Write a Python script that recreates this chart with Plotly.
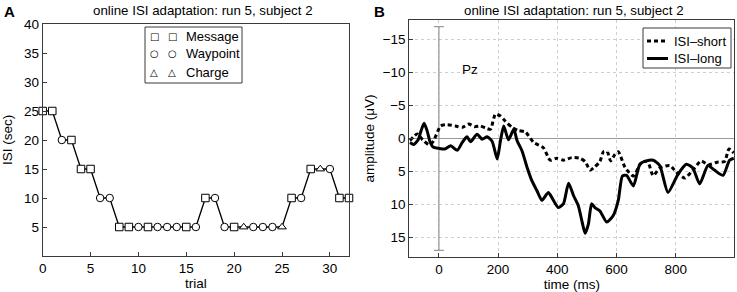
import plotly.graph_objects as go

W, H = 737, 292

# ---------------- data: panel A ----------------
trials = list(range(33))
isi_sec = [25, 25, 20, 20, 15, 15, 10, 10, 5, 5, 5, 5, 5, 5, 5, 5, 5, 10, 10, 5,
           5, 5, 5, 5, 5, 5, 10, 10, 15, 15, 15, 10, 10]
task = ["Message", "Message", "Waypoint", "Message", "Message", "Message", "Waypoint",
        "Waypoint", "Message", "Message", "Waypoint", "Message", "Waypoint", "Waypoint",
        "Waypoint", "Message", "Waypoint", "Message", "Waypoint", "Waypoint", "Message",
        "Charge", "Waypoint", "Waypoint", "Waypoint", "Charge", "Message", "Waypoint",
        "Message", "Charge", "Waypoint", "Message", "Message"]
task_names = ["Message", "Waypoint", "Charge"]
symbol_of = {"Message": "square", "Waypoint": "circle", "Charge": "triangle-up"}
glyph_of = {"Message": "\u25a1", "Waypoint": "\u25cb", "Charge": "\u25b3"}
a_xticks = [0, 5, 10, 15, 20, 25, 30]
a_yticks = [5, 10, 15, 20, 25, 30, 35, 40]

# ---------------- data: panel B ----------------
t_long = [-98, -85, -70, -60, -50, -40, -30, -20, 0, 20, 40, 62, 79, 95, 107, 129, 146,
          163, 180, 197, 208, 219, 235, 253, 264, 281, 298, 314, 331, 348, 370, 387, 404,
          421, 438, 455, 471, 483, 494, 505, 516, 527, 544, 567, 589, 606, 620, 634, 657,
          679, 701, 724, 746, 774, 808, 836, 858, 881, 909, 931, 960, 982, 996]
v_long = [0.6, 0.9, 0.2, -1.2, -2.3, -1.2, 0.5, 1.3, 1.5, 1.6, 1.1, 1.8, 0.6, -0.25, 0.5,
          -0.66, 0.1, -0.25, 0.45, 3.1, 0.35, -1.9, 0.2, -1.4, 0.3, 1.9, 4.4, 6.4, 7.9, 9.4,
          8.2, 9.4, 10.5, 9.9, 6.8, 8.7, 10.2, 12.5, 14.4, 13.0, 9.9, 10.5, 11.0, 12.7, 11.7,
          9.4, 5.7, 5.6, 7.2, 3.9, 3.4, 3.3, 4.1, 8.2, 5.4, 3.9, 4.5, 6.9, 4.1, 4.8, 5.6, 3.3,
          3.0]
t_short = [-98, -73, -55, -34, -20, 6, 28, 56, 80, 101, 120, 140, 157, 174, 191, 208, 225,
           247, 269, 292, 320, 353, 376, 398, 421, 449, 476, 494, 511, 527, 544, 556, 569,
           580, 595, 606, 629, 657, 685, 705, 724, 746, 780, 802, 831, 858, 886, 910, 940,
           965, 980, 996]
v_short = [0.3, -0.7, 0.2, 0.95, 0.5, -1.9, -2.1, -1.9, -1.7, -2.2, -1.8, -1.9, -1.6, -1.4,
           -3.7, -3.4, -2.6, -1.7, -1.2, -1.0, 0.6, 1.4, 3.3, 3.0, 3.3, 2.9, 3.0, 3.5, 4.8,
           4.3, 3.5, 2.0, 2.0, 3.4, 2.4, 2.0, 4.4, 5.7, 3.6, 3.5, 5.65, 4.5, 4.1, 5.1, 6.0,
           4.8, 3.4, 4.0, 3.6, 3.5, 1.6, 2.2]
series_names = ["ISI\u2013short", "ISI\u2013long"]
b_xticks = [0, 200, 400, 600, 800]
b_yticks = [-15, -10, -5, 0, 5, 10, 15]
scale_bar_uv = 17
title_text = "online ISI adaptation: run 5, subject 2"

# ---------------- helpers ----------------
def px(x):
    return x / W


def py(y):
    return 1 - y / H


FONT = "Liberation Sans, Arial, sans-serif"
AXC = "#3a3a3a"
DOTTED = "4px,3px"

fig = go.Figure()

# Panel A
fig.add_trace(go.Scatter(
    x=trials, y=isi_sec, mode="lines+markers", xaxis="x", yaxis="y",
    line=dict(color="black", width=1.3),
    marker=dict(symbol=[symbol_of[t] for t in task], size=7.5,
                color="white", line=dict(color="black", width=1)),
    showlegend=False, hoverinfo="skip", cliponaxis=False))

# Panel B
fig.add_trace(go.Scatter(
    x=[0], y=[0], mode="markers", xaxis="x2", yaxis="y2",
    marker=dict(size=0.1, color="rgba(0,0,0,0)"),
    error_y=dict(type="constant", value=scale_bar_uv, color="#9a9a9a", thickness=1.3, width=5),
    showlegend=False, hoverinfo="skip"))
fig.add_trace(go.Scatter(
    x=t_short, y=v_short, mode="lines", name=series_names[0], xaxis="x2", yaxis="y2",
    line=dict(color="black", width=3, dash=DOTTED, shape="spline", smoothing=0.6),
    showlegend=False))
fig.add_trace(go.Scatter(
    x=t_long, y=v_long, mode="lines", name=series_names[1], xaxis="x2", yaxis="y2",
    line=dict(color="black", width=3, shape="spline", smoothing=0.6),
    showlegend=False))

common_axis = dict(showline=True, linecolor=AXC, linewidth=1, mirror=True,
                   ticks="inside", ticklen=4, tickcolor=AXC, automargin=False,
                   tickfont=dict(size=13.5, color="black", family=FONT))

fig.update_layout(
    width=W, height=H, margin=dict(l=0, r=0, t=0, b=0),
    paper_bgcolor="white", plot_bgcolor="white",
    font=dict(family=FONT, size=13, color="black"),
    showlegend=False,
    xaxis=dict(domain=[px(42.7), px(349)], range=[0, 32], tickvals=a_xticks,
               showgrid=False, zeroline=False,
               title=dict(text="trial", font=dict(size=13.5), standoff=2),
               **common_axis),
    yaxis=dict(domain=[py(256), py(24)], range=[0, 40], tickvals=a_yticks,
               showgrid=False, zeroline=False,
               title=dict(text="ISI (sec)", font=dict(size=13.5), standoff=10),
               **common_axis),
    xaxis2=dict(domain=[px(409.3), px(734.3)], range=[-100, 998], tickvals=b_xticks,
                showgrid=True, gridcolor="#cfcfcf", griddash="dot", gridwidth=1,
                zeroline=False, anchor="y2",
                title=dict(text="time (ms)", font=dict(size=13.5), standoff=0),
                **common_axis),
    yaxis2=dict(domain=[py(257), py(20)], range=[18, -18], tickvals=b_yticks,
                showgrid=True, gridcolor="#cfcfcf", griddash="dot", gridwidth=1,
                zeroline=True, zerolinecolor="#9a9a9a", zerolinewidth=1, anchor="x2",
                title=dict(text="amplitude (\u03bcV)", font=dict(size=13.5), standoff=4),
                **common_axis),
)

# Titles and panel letters
fig.add_annotation(text=title_text, x=px(203), y=py(10), xref="paper", yref="paper",
                   showarrow=False, font=dict(size=13.3), xanchor="center", yanchor="middle")
fig.add_annotation(text=title_text, x=px(574), y=py(10), xref="paper", yref="paper",
                   showarrow=False, font=dict(size=13.3), xanchor="center", yanchor="middle")
fig.add_annotation(text="<b>A</b>", x=px(2), y=py(11), xref="paper", yref="paper",
                   showarrow=False, font=dict(size=15), xanchor="left", yanchor="middle")
fig.add_annotation(text="<b>B</b>", x=px(372), y=py(12), xref="paper", yref="paper",
                   showarrow=False, font=dict(size=15), xanchor="left", yanchor="middle")
fig.add_annotation(text="Pz", x=105, y=-10.5, xref="x2", yref="y2", showarrow=False,
                   font=dict(size=13.5), xanchor="center", yanchor="middle")

# Manual legend for panel A (two symbols per entry)
fig.add_shape(type="rect", xref="paper", yref="paper",
              x0=px(145), x1=px(242), y0=py(83), y1=py(27),
              line=dict(color=AXC, width=1), fillcolor="white", layer="above")
row_y = [36, 54, 72]
for name, ry in zip(task_names, row_y):
    for gx in (154, 172):
        fig.add_annotation(text=glyph_of[name], x=px(gx), y=py(ry), xref="paper", yref="paper",
                           showarrow=False, font=dict(size=10, family="DejaVu Sans"),
                           xanchor="center", yanchor="middle")
    fig.add_annotation(text=name, x=px(184), y=py(ry), xref="paper", yref="paper",
                       showarrow=False, font=dict(size=13), xanchor="left", yanchor="middle")

# Manual legend for panel B
fig.add_shape(type="rect", xref="paper", yref="paper",
              x0=px(643), x1=px(731), y0=py(68), y1=py(28),
              line=dict(color=AXC, width=1), fillcolor="white", layer="above")
for name, ry, dash in zip(series_names, [41, 58.5], [DOTTED, "solid"]):
    fig.add_shape(type="line", xref="paper", yref="paper",
                  x0=px(647), x1=px(668), y0=py(ry), y1=py(ry),
                  line=dict(color="black", width=3, dash=dash), layer="above")
    fig.add_annotation(text=name, x=px(672), y=py(ry), xref="paper", yref="paper",
                       showarrow=False, font=dict(size=13), xanchor="left", yanchor="middle")

fig.write_html("out.html", config={"displayModeBar": False},
               post_script="document.body.style.margin='0';document.body.style.padding='0';")
